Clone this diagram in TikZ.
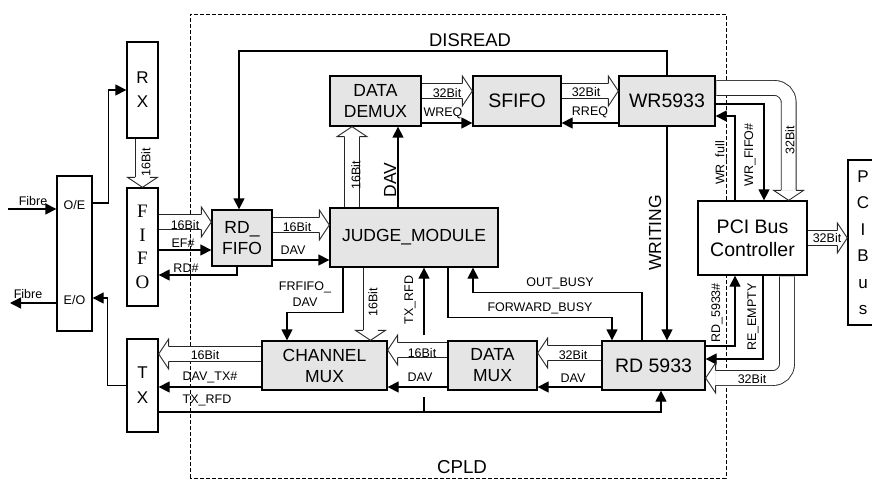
\documentclass[tikz,border=0pt]{standalone}
\usepackage{fontspec}
\setmainfont{Liberation Sans}
\newfontfamily\timesfont{Liberation Serif}
\usetikzlibrary{arrows.meta}

\tikzset{
  blk/.style={draw, line width=1.3pt, fill=gray!20, align=center, inner sep=0pt,
    font=\fontsize{17.5}{21}\selectfont},
  wblk/.style={blk, fill=white},
  bigblk/.style={blk, font=\fontsize{19.5}{23}\selectfont},
  sig/.style={line width=1.3pt, -{Triangle[length=11pt,width=11pt]}},
  wire/.style={line width=1.3pt},
  bus/.style={draw=black!85, line width=0.9pt, double=white, double distance=14pt,
    shorten <=0.7pt, shorten >=10pt},
  lbl/.style={font=\fontsize{12.5}{14}\selectfont, inner sep=0pt},
  tag/.style={font=\fontsize{17.5}{20}\selectfont, inner sep=0pt},
}
% open head for the wide bus arrows: #1 tip, #2 direction
\newcommand{\bushead}[2]{%
  \filldraw[fill=white, draw=black!85, line width=0.9pt, shift={#1}, rotate=#2]
    (-10pt,7.45pt) -- (-10pt,15pt) -- (0pt,0pt) -- (-10pt,-15pt) -- (-10pt,-7.45pt);}

\begin{document}
\begin{tikzpicture}[x=1pt, y=1pt]
\useasboundingbox (0,0) rectangle (872,480);

% CPLD boundary
\draw[dash pattern=on 4pt off 2pt, line width=0.9pt] (190,2) rectangle (726,466);
\node[font=\fontsize{18.7}{20}\selectfont] (cpld) at (462,13) {CPLD};

% optical side
\node[wblk, minimum width=35pt, minimum height=155pt] (oe) at (74.5,226.5) {};
\node[lbl] (oetxt) at (74.5,275) {O/E};
\node[lbl] (eotxt) at (74.5,180) {E/O};
\node[wblk, minimum width=31pt, minimum height=96pt, font=\fontsize{17}{24}\selectfont] (rx) at (142.5,390) {R\\X};
\node[wblk, minimum width=31pt, minimum height=118pt, font=\timesfont\fontsize{19}{23.5}\selectfont] (fifo) at (142.5,233) {F\\I\\F\\O};
\node[wblk, minimum width=31pt, minimum height=93pt, font=\fontsize{17}{25}\selectfont] (tx) at (142.5,94.5) {T\\X};

% CPLD blocks
\node[blk, minimum width=60pt, minimum height=56pt] (rdfifo) at (242,242) {RD\_\\FIFO};
\node[blk, minimum width=91pt, minimum height=50pt] (demux) at (375.5,379) {DATA\\DEMUX};
\node[bigblk, minimum width=88pt, minimum height=50pt] (sfifo) at (517,379) {SFIFO};
\node[bigblk, minimum width=96pt, minimum height=50pt] (wr) at (667,379) {WR5933};
\node[blk, minimum width=168pt, minimum height=59pt] (judge) at (414,242.5) {JUDGE\_MODULE};
\node[blk, minimum width=125pt, minimum height=49pt] (chmux) at (324.5,114.5) {CHANNEL\\MUX};
\node[blk, minimum width=89pt, minimum height=49pt] (dmux) at (492.5,114.5) {DATA\\MUX};
\node[bigblk, minimum width=103pt, minimum height=49pt] (rd) at (653.5,114.5) {RD 5933};

% PCI side
\node[wblk, font=\fontsize{19.5}{23}\selectfont, minimum width=109pt, minimum height=74pt] (pcictl) at (752.5,242) {PCI Bus\\Controller};
\node[wblk, minimum width=30pt, minimum height=165pt, font=\fontsize{17}{26.5}\selectfont] (pcibus) at (863,237.5) {P\\C\\I\\B\\u\\s};

% fibre in / out
\coordinate (fibrein) at (8,271);
\coordinate (fibreout) at (10,177);
\draw[sig] (fibrein) -- (fibrein -| oe.west);
\draw[sig] (oe.west |- fibreout) -- (fibreout);
\node[lbl] (fin) at (33,279) {Fibre};
\node[lbl] (fout) at (28,186) {Fibre};
\draw[sig] ([yshift=50.5pt]oe.east) -- ++(16,0) |- (rx.west);
\draw[sig] (tx.west) -- ++(-19,0) |- ([yshift=-44.5pt]oe.east);

% receive path
\draw[bus] (rx.south) -- (fifo.north); \bushead{(fifo.north)}{-90}
\node[lbl, rotate=90] (b1) at (146,318) {16Bit};
\draw[bus] ([yshift=25pt]fifo.east) -- ([yshift=16pt]rdfifo.west); \bushead{([yshift=16pt]rdfifo.west)}{0}
\node[lbl] (b2) at (185,255) {16Bit};
\draw[sig] (fifo.east |- 0,230) -- (rdfifo.west |- 0,230);
\node[lbl] (ef) at (183,237) {EF\#};
\draw[sig] ([xshift=-5pt]rdfifo.south) |- (fifo.east |- 0,205);
\node[lbl] (rdn) at (186,212) {RD\#};
\draw[sig] (wr.north) -- (wr.north |- 0,429) -| ([xshift=-3pt]rdfifo.north);
\node[tag, font=\fontsize{18.4}{20}\selectfont] (disread) at (470,440) {DISREAD};

\draw[bus] (rdfifo.east |- 0,255) -- (judge.west |- 0,255); \bushead{(judge.west |- 0,255)}{0}
\node[lbl] (b3) at (297,253) {16Bit};
\draw[sig] (rdfifo.east |- 0,220) -- (judge.west |- 0,220);
\node[lbl] (dav1) at (293,230) {DAV};

% judge to write side
\coordinate (dmx16) at ([xshift=-23.5pt]demux.south);
\coordinate (dmxdav) at ([xshift=22.5pt]demux.south);
\draw[bus] (dmx16 |- judge.north) -- (dmx16); \bushead{(dmx16)}{90}
\node[lbl, rotate=90] (b4) at (356,305) {16Bit};
\draw[sig] (dmxdav |- judge.north) -- (dmxdav);
\node[tag, rotate=90] (dav2) at (390,300) {DAV};

\draw[bus] (demux.east |- 0,389) -- (sfifo.west |- 0,389); \bushead{(sfifo.west |- 0,389)}{0}
\node[lbl] (b5) at (447,387) {32Bit};
\draw[sig] (demux.east |- 0,357) -- (sfifo.west |- 0,357);
\node[lbl] (wreq) at (443,367) {WREQ};
\draw[bus] (sfifo.east |- 0,389) -- (wr.west |- 0,389); \bushead{(wr.west |- 0,389)}{0}
\node[lbl] (b6) at (586,388) {32Bit};
\draw[sig] (wr.west |- 0,357) -- (sfifo.east |- 0,357);
\node[lbl] (rreq) at (590,368) {RREQ};

\draw[sig] (wr.south) -- (wr.south |- rd.north);
\node[tag, rotate=90] (writing) at (655,247) {WRITING};

% PCI bus controller links
\coordinate (ctlbusin) at ([xshift=-19pt]pcictl.north east);
\draw[bus, rounded corners=14pt] (wr.east |- 0,392) -| (ctlbusin); \bushead{(ctlbusin)}{-90}
\node[lbl, rotate=90] (b7) at (790,340) {32Bit};
\draw[sig] (wr.east |- 0,376) -| ([xshift=11.5pt]pcictl.north);
\node[lbl, rotate=90] (wrfifo) at (750,325) {WR\_FIFO\#};
\draw[sig] ([xshift=-17.5pt]pcictl.north) |- (wr.east |- 0,364);
\node[lbl, rotate=90] (wrfull) at (721,317) {WR\_full};

\draw[bus] (pcictl.east) -- (pcictl.east -| pcibus.west); \bushead{(pcictl.east -| pcibus.west)}{0}
\node[lbl] (b8) at (827,242) {32Bit};

\draw[sig] (rd.east |- 0,134) -| ([xshift=-17.5pt]pcictl.south);
\node[lbl, rotate=90] (rd5933n) at (717,167) {RD\_5933\#};
\draw[sig] ([xshift=10.5pt]pcictl.south) |- (rd.east |- 0,121);
\node[lbl, rotate=90] (reempty) at (753,163) {RE\_EMPTY};
\coordinate (rdbusin) at (rd.east |- 0,102);
\draw[bus, rounded corners=14pt] ([xshift=34.5pt]pcictl.south) |- (rdbusin); \bushead{(rdbusin)}{180}
\node[lbl] (b9) at (752,101) {32Bit};

% transmit path
\draw[bus] (rd.west |- 0,127) -- (dmux.east |- 0,127); \bushead{(dmux.east |- 0,127)}{180}
\node[lbl] (b10) at (573,125) {32Bit};
\draw[sig] (rd.west |- 0,93) -- (dmux.east |- 0,93);
\node[lbl] (dav3) at (573,102) {DAV};
\draw[bus] (dmux.west |- 0,130) -- (chmux.east |- 0,130); \bushead{(chmux.east |- 0,130)}{180}
\node[lbl] (b11) at (422,127) {16Bit};
\draw[sig] (dmux.west |- 0,93) -- (chmux.east |- 0,93);
\node[lbl] (dav4) at (420,103) {DAV};
\draw[bus] (chmux.west |- 0,126) -- (tx.east |- 0,126); \bushead{(tx.east |- 0,126)}{180}
\node[lbl] (b12) at (205,125) {16Bit};
\draw[sig] (chmux.west |- 0,93) -- (tx.east |- 0,93);
\node[lbl] (davtx) at (210,103) {DAV\_TX\#};

% TX_RFD return
\draw[sig] (tx.east |- 0,68) -| ([xshift=7.5pt]rd.south);
\node[lbl] (rfd1) at (207,80) {TX\_RFD};
\coordinate (rfd) at ([xshift=10pt]judge.south);
\draw[wire] (rfd |- 0,68) -- (rfd |- 0,83);
\draw[sig] (rfd |- 0,145) -- (rfd);
\node[lbl, rotate=90] (rfd2) at (410,180) {TX\_RFD};

% judge to transmit side
\draw[sig] ([xshift=-71pt]judge.south) -- ++(0,-45) -| ([xshift=-37.5pt]chmux.north);
\node[lbl, align=center, font=\fontsize{12.5}{16}\selectfont] (frfifo) at (305,186) {FRFIFO\_\\DAV};
\coordinate (ch16) at ([xshift=46pt]chmux.north);
\draw[bus] (ch16 |- judge.south) -- (ch16); \bushead{(ch16)}{-90}
\node[lbl, rotate=90] (b13) at (373,178) {16Bit};

% busy handshake
\draw[sig] ([xshift=-11.5pt]rd.north) -- ++(0,48) -| ([xshift=59pt]judge.south);
\node[lbl] (outbusy) at (560,197) {OUT\_BUSY};
\draw[sig] ([xshift=34pt]judge.south) -- ++(0,-50) -| ([xshift=-41.5pt]rd.north);
\node[lbl] (fwdbusy) at (540,172) {FORWARD\_BUSY};
\end{tikzpicture}
\end{document}
